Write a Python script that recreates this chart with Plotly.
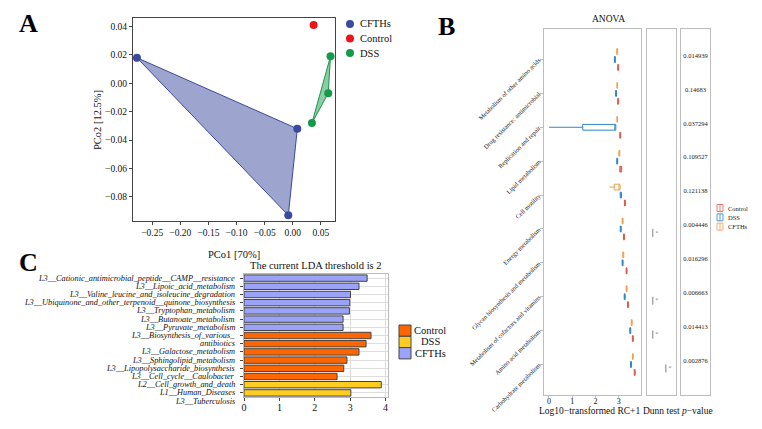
import plotly.graph_objects as go

SERIF = "Liberation Serif"
W, H = 762, 429

# ---------------- Panel A data (PCoA) ----------------
pcoa_groups = ["CFTHs", "Control", "DSS"]
pcoa_x = {"CFTHs": [-0.277, 0.008, -0.008], "Control": [0.037], "DSS": [0.067, 0.063, 0.034]}
pcoa_y = {"CFTHs": [0.018, -0.032, -0.093], "Control": [0.041], "DSS": [0.019, -0.007, -0.028]}
pcoa_colors = {"CFTHs": "#3B4A9C", "Control": "#E8161B", "DSS": "#17994A"}
pcoa_fill = {"CFTHs": "rgba(59,74,156,0.5)", "Control": "rgba(232,22,27,0.5)", "DSS": "rgba(23,153,74,0.5)"}

# ---------------- Panel B data (ANOVA boxes) ----------------
b_categories = [
    "Metabolism of other amino acids", "Drug resistance: antimicrobial", "Replication and repair",
    "Lipid metabolism", "Cell motility", "Energy metabolism",
    "Glycan biosynthesis and metabolism", "Metabolism of cofactors and vitamins",
    "Amino acid metabolism", "Carbohydrate metabolism",
]
b_groups = ["CFTHs", "DSS", "Control"]
b_legend_order = ["Control", "DSS", "CFTHs"]
b_median = {
    "CFTHs": [2.93, 2.93, 2.93, 3.02, 3.03, 3.16, 3.19, 3.33, 3.55, 3.60],
    "DSS": [2.83, 2.88, 2.86, 2.93, 3.09, 3.08, 3.16, 3.25, 3.49, 3.52],
    "Control": [2.97, 2.97, 3.06, 3.08, 3.26, 3.22, 3.33, 3.39, 3.60, 3.68],
}
b_q1 = {
    "CFTHs": [2.91, 2.92, 2.92, 3.00, 2.80, 3.14, 3.17, 3.31, 3.53, 3.59],
    "DSS": [2.81, 2.86, 1.45, 2.91, 3.06, 3.06, 3.14, 3.23, 3.47, 3.50],
    "Control": [2.95, 2.95, 3.04, 3.04, 3.24, 3.20, 3.31, 3.37, 3.58, 3.66],
}
b_q3 = {
    "CFTHs": [2.95, 2.94, 2.94, 3.04, 3.05, 3.18, 3.21, 3.35, 3.57, 3.61],
    "DSS": [2.85, 2.90, 2.87, 2.95, 3.11, 3.10, 3.18, 3.27, 3.51, 3.54],
    "Control": [2.99, 2.99, 3.08, 3.12, 3.28, 3.24, 3.35, 3.41, 3.62, 3.70],
}
b_low = {
    "CFTHs": [2.90, 2.91, 2.91, 2.99, 2.59, 3.13, 3.16, 3.30, 3.52, 3.58],
    "DSS": [2.80, 2.85, 0.01, 2.90, 3.05, 3.05, 3.13, 3.22, 3.46, 3.49],
    "Control": [2.94, 2.94, 3.03, 3.03, 3.23, 3.19, 3.30, 3.36, 3.57, 3.65],
}
b_high = {
    "CFTHs": [2.96, 2.95, 2.95, 3.05, 3.07, 3.19, 3.22, 3.36, 3.58, 3.62],
    "DSS": [2.86, 2.91, 2.88, 2.96, 3.12, 3.11, 3.19, 3.28, 3.52, 3.55],
    "Control": [3.00, 3.00, 3.09, 3.13, 3.29, 3.25, 3.36, 3.42, 3.63, 3.71],
}
b_colors = {"Control": "#DC5A4E", "DSS": "#2F86C6", "CFTHs": "#F0A04B"}
b_offsets = {"CFTHs": -0.235, "DSS": 0.0, "Control": 0.235}
p_values = ["0.014939", "0.14683", "0.037294", "0.109527", "0.121138",
            "0.004446", "0.016296", "0.006663", "0.014413", "0.002876"]
dunn_categories = [5, 7, 8, 9]
dunn_level = [0.2, 0.2, 0.2, 0.65]

# ---------------- Panel C data (LDA) ----------------
lda_labels = [
    "L3__Cationic_antimicrobial_peptide__CAMP__resistance",
    "L3__Lipoic_acid_metabolism",
    "L3__Valine_leucine_and_isoleucine_degradation",
    "L3__Ubiquinone_and_other_terpenoid__quinone_biosynthesis",
    "L3__Tryptophan_metabolism",
    "L3__Butanoate_metabolism",
    "L3__Pyruvate_metabolism",
    "L3__Biosynthesis_of_various_",
    "antibiotics",
    "L3__Galactose_metabolism",
    "L3__Sphingolipid_metabolism",
    "L3__Lipopolysaccharide_biosynthesis",
    "L3__Cell_cycle__Caulobacter",
    "L2__Cell_growth_and_death",
    "L1__Human_Diseases",
    "L3__Tuberculosis",
]
lda_values = [3.48, 3.25, 3.01, 2.99, 2.98, 2.80, 2.80, 3.59, 3.45, 3.25, 2.91, 2.82, 2.63, 3.88, 3.02]
lda_groups = ["CFTHs"] * 7 + ["Control"] * 6 + ["DSS"] * 2
lda_colors = {"Control": "#FF6600", "DSS": "#FFCC22", "CFTHs": "#9BA3F8"}
lda_order = ["Control", "DSS", "CFTHs"]


def xp(px):
    return px / W


def yp(py):
    return 1 - py / H


fig = go.Figure()

# ---- Panel A ----
for g in pcoa_groups:
    xs, ys = pcoa_x[g], pcoa_y[g]
    if len(xs) > 2:
        fig.add_trace(go.Scatter(x=xs + xs[:1], y=ys + ys[:1], mode="lines", fill="toself",
                                 fillcolor=pcoa_fill[g], line=dict(color=pcoa_colors[g], width=1),
                                 showlegend=False, hoverinfo="skip", xaxis="x", yaxis="y"))
for g in pcoa_groups:
    fig.add_trace(go.Scatter(x=pcoa_x[g], y=pcoa_y[g], mode="markers", name=g,
                             marker=dict(color=pcoa_colors[g], size=8), showlegend=False,
                             xaxis="x", yaxis="y"))

# ---- Panel B boxes ----
for g in b_groups:
    pos = [i + b_offsets[g] for i in range(len(b_categories))]
    fig.add_trace(go.Box(orientation="h", y=pos, q1=b_q1[g], median=b_median[g], q3=b_q3[g],
                         lowerfence=b_low[g], upperfence=b_high[g], name=g, width=0.17,
                         line=dict(color=b_colors[g], width=1), fillcolor="rgba(255,255,255,0.6)",
                         whiskerwidth=0.0, showlegend=False, xaxis="x2", yaxis="y2"))

# ---- Dunn test brackets ----
for c, lv in zip(dunn_categories, dunn_level):
    fig.add_trace(go.Scatter(x=[lv, lv], y=[c + b_offsets["DSS"], c + b_offsets["Control"]],
                             mode="lines", line=dict(color="#7F7F7F", width=1),
                             showlegend=False, hoverinfo="skip", xaxis="x3", yaxis="y3"))
    fig.add_trace(go.Scatter(x=[lv + 0.14], y=[c + 0.12], mode="text", text=["*"],
                             textfont=dict(size=6, color="#7F7F7F", family=SERIF),
                             showlegend=False, hoverinfo="skip", xaxis="x3", yaxis="y3"))

# ---- p-values ----
fig.add_trace(go.Scatter(x=[0.5] * len(p_values), y=[i - 0.1 for i in range(len(p_values))],
                         mode="text", text=p_values, textfont=dict(size=6.5, color="#222", family=SERIF),
                         showlegend=False, hoverinfo="skip", xaxis="x4", yaxis="y4"))

# ---- Panel C bars ----
for g in lda_order:
    ys = [i + 1 for i, gg in enumerate(lda_groups) if gg == g]
    xs = [v for v, gg in zip(lda_values, lda_groups) if gg == g]
    fig.add_trace(go.Bar(orientation="h", x=xs, y=ys, name=g, width=0.78,
                         marker=dict(color=lda_colors[g], line=dict(color="#444444", width=1)),
                         showlegend=False, xaxis="x5", yaxis="y5"))

n_bars = len(lda_values)
for i, lab in enumerate(lda_labels):
    fig.add_annotation(x=0.311, xref="paper", y=1 - (i + 0.5) / n_bars, yref="y5 domain",
                       text="<i>" + lab + "</i>", showarrow=False,
                       xanchor="right", yanchor="middle",
                       font=dict(family=SERIF, size=8.3, color="#111"))

frameB = "#BDBDBD"
fig.update_layout(
    width=W, height=H, margin=dict(l=0, r=0, t=0, b=0, autoexpand=False),
    paper_bgcolor="white", plot_bgcolor="white",
    font=dict(family=SERIF, color="#111"),
    barmode="overlay", showlegend=False,
    xaxis=dict(domain=[xp(133), xp(335)], range=[-0.284, 0.075], tickvals=[-0.25, -0.2, -0.15, -0.1, -0.05, 0, 0.05],
               ticktext=["−0.25", "−0.20", "−0.15", "−0.10", "−0.05", "0.00", "0.05"],
               showline=True, linecolor="#444", mirror=True, ticks="outside", ticklen=3, tickcolor="#444",
               showgrid=False, zeroline=False, tickfont=dict(size=9.5), anchor="y"),
    yaxis=dict(domain=[yp(221), yp(18)], range=[-0.097, 0.046], tickvals=[0.04, 0.02, 0, -0.02, -0.04, -0.06, -0.08],
               ticktext=["0.04", "0.02", "0.00", "−0.02", "−0.04", "−0.06", "−0.08"],
               showline=True, linecolor="#444", mirror=True, ticks="outside", ticklen=3, tickcolor="#444",
               showgrid=False, zeroline=False, tickfont=dict(size=9.5), anchor="x"),
    xaxis2=dict(domain=[xp(544), xp(641)], range=[-0.21, 3.95], tickvals=[0, 1, 2, 3],
                showline=True, linecolor=frameB, mirror=True, ticks="outside", ticklen=2, tickcolor=frameB,
                showgrid=False, zeroline=False, tickfont=dict(size=8), anchor="y2", ticklabelstandoff=-4),
    yaxis2=dict(domain=[yp(395), yp(29)], range=[9.9, -0.9], tickvals=list(range(len(b_categories))),
                ticktext=b_categories, tickangle=-45, tickfont=dict(size=6.4, color="#222"),
                showline=True, linecolor=frameB, mirror=True, ticks="outside", ticklen=3, tickcolor=frameB,
                showgrid=False, zeroline=False, anchor="x2"),
    xaxis3=dict(domain=[xp(647), xp(676)], range=[0, 1], showticklabels=False, ticks="",
                showline=True, linecolor=frameB, mirror=True, showgrid=False, zeroline=False, anchor="y3"),
    yaxis3=dict(domain=[yp(395), yp(29)], range=[9.9, -0.9], showticklabels=False, ticks="",
                showline=True, linecolor=frameB, mirror=True, showgrid=False, zeroline=False, anchor="x3"),
    xaxis4=dict(domain=[xp(681), xp(710)], range=[0, 1], showticklabels=False, ticks="",
                showline=True, linecolor=frameB, mirror=True, showgrid=False, zeroline=False, anchor="y4"),
    yaxis4=dict(domain=[yp(395), yp(29)], range=[9.9, -0.9], showticklabels=False, ticks="",
                showline=True, linecolor=frameB, mirror=True, showgrid=False, zeroline=False, anchor="x4"),
    xaxis5=dict(domain=[xp(244), xp(388)], range=[0, 4.07], tickvals=[0, 1, 2, 3, 4],
                showline=True, linecolor="#BBBBBB", mirror=True, ticks="outside", ticklen=3, tickcolor="#444",
                showgrid=True, gridcolor="#DDDDDD", zeroline=False, tickfont=dict(size=10), anchor="y5",
                ticklabelstandoff=-2),
    yaxis5=dict(domain=[yp(397), yp(274)], range=[15.5, 0.5], tickvals=list(range(1, 16)),
                showticklabels=False, ticks="outside", ticklen=3, tickcolor="#444",
                showline=True, linecolor="#BBBBBB", mirror=True, showgrid=True, gridcolor="#DDDDDD",
                zeroline=False, anchor="x5"),
)

# ---- Custom legends (glyphs in paper space) ----
# Panel A legend
for k, g in enumerate(pcoa_groups):
    cy = 24 + 14.5 * k
    fig.add_shape(type="circle", xref="paper", yref="paper", x0=xp(346), x1=xp(354), y0=yp(cy + 4), y1=yp(cy - 4),
                  fillcolor=pcoa_colors[g], line=dict(width=0))
    fig.add_annotation(x=xp(358), y=yp(cy), xref="paper", yref="paper", text=g, showarrow=False,
                       xanchor="left", yanchor="middle", font=dict(size=10.5, family=SERIF, color="#111"))

# Panel C legend
for k, g in enumerate(lda_order):
    top = 325 + 11.3 * k
    fig.add_shape(type="rect", xref="paper", yref="paper", x0=xp(399), x1=xp(411), y0=yp(top + 11.3), y1=yp(top),
                  fillcolor=lda_colors[g], line=dict(color="#444444", width=1))
    fig.add_annotation(x=xp(430), y=yp(top + 5.5), xref="paper", yref="paper", text=g, showarrow=False,
                       xanchor="center", yanchor="middle", font=dict(size=10.5, family=SERIF, color="#111"))

# Panel B legend
for k, g in enumerate(b_legend_order):
    cy = 208 + 9.3 * k
    col = b_colors[g]
    fig.add_shape(type="rect", xref="paper", yref="paper", x0=xp(717), x1=xp(723), y0=yp(cy + 3.5), y1=yp(cy - 3.5),
                  fillcolor="white", line=dict(color=col, width=0.8))
    fig.add_shape(type="line", xref="paper", yref="paper", x0=xp(720), x1=xp(720), y0=yp(cy + 3.5), y1=yp(cy - 3.5),
                  line=dict(color=col, width=0.8))
    fig.add_annotation(x=xp(726), y=yp(cy), xref="paper", yref="paper", text=g, showarrow=False,
                       xanchor="left", yanchor="middle", font=dict(size=6.5, family=SERIF, color="#222"))

# Text annotations
ann = [
    dict(x=xp(28), y=yp(24), text="<b>A</b>", font=dict(size=26, family=SERIF, color="#000")),
    dict(x=xp(447), y=yp(27), text="<b>B</b>", font=dict(size=26, family=SERIF, color="#000")),
    dict(x=xp(28), y=yp(262), text="<b>C</b>", font=dict(size=26, family=SERIF, color="#000")),
    dict(x=xp(234), y=yp(254), text="PCo1 [70%]", font=dict(size=10.5, family=SERIF)),
    dict(x=xp(97), y=yp(120), text="PCo2 [12.5%]", textangle=-90, font=dict(size=10.5, family=SERIF)),
    dict(x=xp(316), y=yp(265), text="The current LDA threshold is 2", font=dict(size=10.5, family=SERIF)),
    dict(x=xp(608), y=yp(19), text="ANOVA", font=dict(size=9.5, family=SERIF)),
    dict(x=xp(589), y=yp(411), text="Log10−transformed RC+1", font=dict(size=9.5, family=SERIF)),
    dict(x=xp(661), y=yp(411), text="Dunn test", font=dict(size=9.5, family=SERIF)),
    dict(x=xp(697), y=yp(411), text="<i>p</i>−value", font=dict(size=9.5, family=SERIF)),
]
for a in ann:
    fig.add_annotation(xref="paper", yref="paper", showarrow=False, xanchor="center", yanchor="middle", **a)

fig.write_html("out.html")
